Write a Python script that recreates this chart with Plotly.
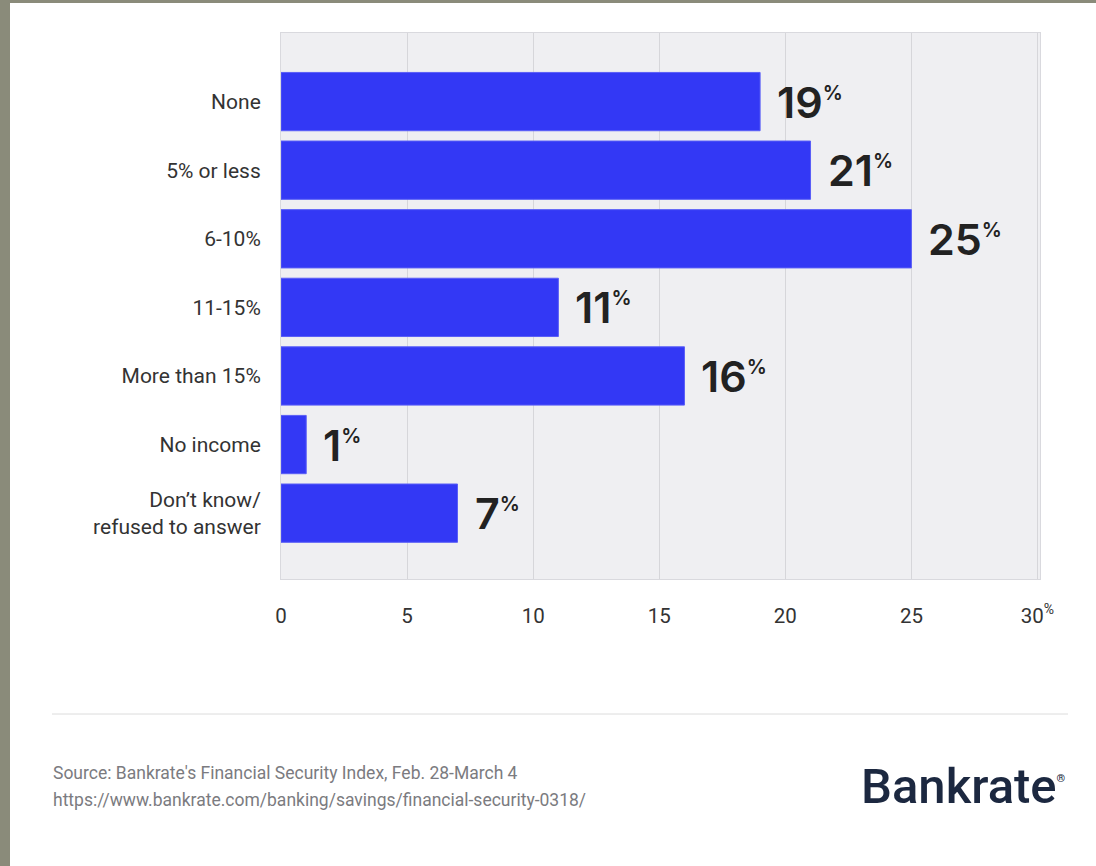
import plotly.graph_objects as go

categories = ["None", "5% or less", "6-10%", "11-15%", "More than 15%", "No income",
              "Don\u2019t know/<br>refused to answer"]
values = [19, 21, 25, 11, 16, 1, 7]
x_ticks = [0, 5, 10, 15, 20, 25, 30]
x_tick_labels = ["0", "5", "10", "15", "20", "25",
                 "30<sup><span style='font-size:14px'>%</span></sup>"]

W, H = 1096, 866
L, R, T, B = 281, 56, 33, 287
PW, PH = W - L - R, H - T - B

def px(x):
    return (x - L) / PW

def py(y):
    return (H - B - y) / PH

bar_color = "#3338F5"
fig = go.Figure()
fig.add_trace(go.Bar(
    x=values, y=list(range(len(categories))), orientation="h",
    marker=dict(color=bar_color, line=dict(width=1, color="#5a5ef7")),
    width=0.85, hoverinfo="skip",
))

annotations = []
for i, v in enumerate(values):
    annotations.append(dict(
        x=v, y=i, xref="x", yref="y",
        text=f"{v}<sup><span style='font-size:20px'>%</span></sup>",
        showarrow=False, xanchor="left", yanchor="middle", xshift=15,
        font=dict(family="Inter", size=43, color="#222222", weight=600),
    ))

# footer texts
annotations += [
    dict(x=px(51), y=py(773), xref="paper", yref="paper", xanchor="left", yanchor="middle",
         text="Source: Bankrate's Financial Security Index, Feb. 28-March 4",
         showarrow=False, font=dict(family="Roboto", size=17.5, color="#7b7b80")),
    dict(x=px(51), y=py(800), xref="paper", yref="paper", xanchor="left", yanchor="middle",
         text="https://www.bankrate.com/banking/savings/financial-security-0318/",
         showarrow=False, font=dict(family="Roboto", size=17.5, color="#7b7b80")),
    dict(x=px(1068), y=py(786), xref="paper", yref="paper", xanchor="right", yanchor="middle",
         text="Bankrate<sup><span style='font-size:11px'>\u00ae</span></sup>",
         showarrow=False, font=dict(family="Roboto", size=49, color="#1c2840", weight=500)),
]

shapes = [
    dict(type="line", xref="paper", yref="paper", x0=px(52), x1=px(1068), y0=py(714), y1=py(714),
         line=dict(color="#dcdcdc", width=1)),
    dict(type="rect", xref="paper", yref="paper", x0=px(0), x1=px(10), y0=py(0), y1=py(H),
         fillcolor="#8a8b7a", line=dict(width=0), layer="above"),
    dict(type="rect", xref="paper", yref="paper", x0=px(0), x1=px(W), y0=py(0), y1=py(3),
         fillcolor="#8a8b7a", line=dict(width=0), layer="above"),
]

fig.update_layout(
    width=W, height=H,
    margin=dict(l=L, r=R, t=T, b=B, pad=0),
    paper_bgcolor="white", plot_bgcolor="#efeff2",
    showlegend=False,
    annotations=annotations, shapes=shapes,
    font=dict(family="Roboto", color="#333333"),
    bargap=0.15,
)
fig.update_xaxes(
    range=[0, 30.1], tickvals=x_ticks, ticktext=x_tick_labels,
    showgrid=True, gridcolor="#d6d6da", gridwidth=1, zeroline=False,
    showline=True, linecolor="#d9d9de", linewidth=1, mirror=True,
    tickfont=dict(size=20.5, color="#333333"), ticks="", ticklabelstandoff=18,
    fixedrange=True,
)
fig.update_yaxes(
    range=[6.96, -1.0], tickvals=list(range(len(categories))), ticktext=categories,
    showgrid=False, zeroline=False,
    showline=True, linecolor="#d9d9de", linewidth=1, mirror=True,
    tickfont=dict(size=21, color="#333333"), ticks="", ticklabelstandoff=15,
    fixedrange=True,
)

fig.write_html("out.html", config={"displayModeBar": False})
